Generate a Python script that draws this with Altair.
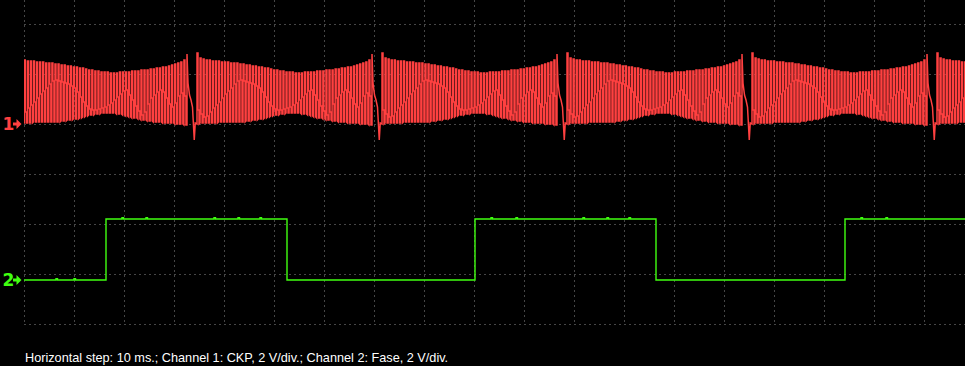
import altair as alt
import pandas as pd

# ---------------- Channel 1: CKP (volts per tooth, one crank revolution, 60-2 wheel) ----------------
tooth_top = [5.68,
             5.28, 5.20, 5.12, 5.12,
             5.04, 5.04, 5.04, 4.96, 4.96,
             4.96, 4.88, 4.88, 4.88, 4.80,
             4.80, 4.72, 4.72, 4.64, 4.64,
             4.56, 4.56, 4.48, 4.48, 4.40,
             4.32, 4.32, 4.24, 4.24, 4.16,
             4.16, 4.16, 4.08, 4.08, 4.08,
             4.16, 4.16, 4.16, 4.16, 4.24,
             4.24, 4.24, 4.32, 4.32, 4.32,
             4.40, 4.40, 4.48, 4.48, 4.56,
             4.56, 4.64, 4.72, 4.80, 4.88,
             4.96, 5.12, 5.60]
tooth_mid = [1.12, 0.80, 0.56, 0.64, 0.96,
             1.28, 1.52, 1.76, 2.08, 2.40,
             2.64, 2.88, 3.20, 3.44, 3.52,
             3.44, 3.36, 3.28, 3.20, 3.04,
             2.88, 2.56, 2.16, 1.76, 1.44,
             1.20, 1.12, 1.12, 1.20, 1.28,
             1.36, 1.52, 1.68, 1.92, 2.16,
             2.40, 2.64, 2.72, 2.32, 1.92,
             1.44, 1.04, 0.72, 0.96, 1.60,
             2.08, 2.32, 2.56, 2.72, 2.56,
             2.08, 1.60, 1.36, 1.68, 2.24,
             2.48, 2.24, 1.92]
tooth_bottom = [0.00, 0.08, 0.08, 0.08, 0.08, 0.08, 0.08, 0.16, 0.16, 0.16,
                0.16, 0.16, 0.16, 0.16, 0.16, 0.16, 0.24, 0.24, 0.32, 0.32,
                0.40, 0.40, 0.48, 0.56, 0.64, 0.72, 0.72, 0.80, 0.80, 0.88,
                0.88, 0.88, 0.88, 0.88, 0.80, 0.80, 0.72, 0.64, 0.56, 0.48,
                0.48, 0.40, 0.32, 0.32, 0.24, 0.24, 0.16, 0.16, 0.16, 0.08,
                0.08, 0.08, 0.08, 0.00, 0.00, 0.00, -0.08, -0.08]
gap_times = [65.2, 139.2, 213.2, 287.2, 361.2]      # ms: last tooth before the missing-tooth gap
teeth_span = 70.0                                    # ms from first to last tooth
gap_dt = [0.4, 1.0, 1.6, 2.2, 2.9, 3.3]              # ms after last tooth
gap_v = [3.28, 2.32, 1.92, 1.36, -1.28, 0.08]        # volts
ch1_offset = 16.0                                    # display volts of channel 1 zero

# ---------------- Channel 2: Fase ----------------
fase_edges = [32.8, 105.2, 180.4, 252.8, 328.4]      # ms, alternating rise / fall
fase_high = 4.88
fase_glitch_t = [12.8, 20.0, 39.2, 48.8, 76.0, 85.6, 94.4, 186.8, 196.8, 223.6, 233.2, 242.0, 334.8, 344.8]
fase_glitch_dv = 0.10
fase_glitch_w = 0.6
ch2_offset = 3.52

t_end = 376.4
caption = "Horizontal step: 10 ms.; Channel 1: CKP, 2 V/div.; Channel 2: Fase, 2 V/div."
channel_names = ["1", "2"]
channel_levels = [ch1_offset, ch2_offset]

# ---- build channel 1 trace ----
pts = []
starts = [g - teeth_span for g in gap_times] + [gap_times[-1] + 4.0]
n = len(tooth_top)
step = teeth_span / (n - 1)
for k, s in enumerate(starts):
    for i in range(n):
        t = s + i * step
        if t > t_end + 2:
            break
        B, T, M = tooth_bottom[i], tooth_top[i], tooth_mid[i]
        pts.append((t, B))
        pts.append((t, T))
        if i == n - 1 and k < len(starts) - 1:
            for dt, v in zip(gap_dt, gap_v):
                pts.append((t + dt, v))
        else:
            pts += [(t + 0.4, T), (t + 0.4, M), (t + 0.8, M), (t + 0.8, B)]
ch1 = pd.DataFrame({"t": [p[0] for p in pts],
                    "v": [p[1] + ch1_offset for p in pts],
                    "idx": list(range(len(pts)))})

# ---- build channel 2 trace ----
def base_level(t):
    lvl = 0.0
    for j, e in enumerate(fase_edges):
        if t >= e:
            lvl = fase_high if j % 2 == 0 else 0.0
    return lvl

g_pts = [(0.0, 0.0)]
for j, e in enumerate(fase_edges):
    g_pts.append((e, fase_high if j % 2 == 0 else 0.0))
for tg in fase_glitch_t:
    b = base_level(tg)
    g_pts.append((tg, b + fase_glitch_dv))
    g_pts.append((tg + fase_glitch_w, b))
g_pts.append((t_end, base_level(t_end)))
g_pts.sort(key=lambda p: p[0])
ch2 = pd.DataFrame({"t": [p[0] for p in g_pts],
                    "v": [p[1] + ch2_offset for p in g_pts],
                    "idx": list(range(len(g_pts)))})

RED = "#ff4040"
GREEN = "#40ff10"
GRID = "#8c8c8c"

xs = alt.Scale(domain=[0, t_end], nice=False, zero=False)
ys = alt.Scale(domain=[0, 25.92], nice=False, zero=False)
x_axis = alt.Axis(values=list(range(0, 380, 10)), labels=False, ticks=False, domain=False,
                  grid=True, gridColor=GRID, gridDash=[1, 4], gridWidth=1, title="")
y_axis = alt.Axis(values=list(range(0, 26, 2)), labels=False, ticks=False, domain=False,
                  grid=True, gridColor=GRID, gridDash=[1, 4], gridWidth=1, title="")

red = alt.Chart(ch1).mark_line(color=RED, strokeWidth=1.5, clip=True).encode(
    x=alt.X("t:Q", scale=xs, axis=x_axis),
    y=alt.Y("v:Q", scale=ys, axis=y_axis),
    order="idx:Q",
)
green = alt.Chart(ch2).mark_line(color=GREEN, strokeWidth=1.4, interpolate="step-after", clip=True).encode(
    x=alt.X("t:Q", scale=xs),
    y=alt.Y("v:Q", scale=ys),
    order="idx:Q",
)

lab_df = pd.DataFrame({"name": channel_names, "level": channel_levels})
color_scale = alt.Scale(domain=channel_names, range=[RED, GREEN])
labels = alt.Chart(lab_df).mark_text(fontSize=17, fontWeight="bold", font="DejaVu Sans",
                                     align="center", baseline="middle", dy=1).encode(
    x=alt.value(-15.5),
    y=alt.Y("level:Q", scale=ys),
    text="name:N",
    color=alt.Color("name:N", scale=color_scale, legend=None),
)
arrows = alt.Chart(lab_df).mark_point(
    shape="M-0.9,-0.3L-0.2,-0.3L-0.2,-1L0.8,0L-0.2,1L-0.2,0.3L-0.9,0.3Z",
    filled=True, size=100, opacity=1, strokeWidth=0).encode(
    x=alt.value(-6.5),
    y=alt.Y("level:Q", scale=ys),
    color=alt.Color("name:N", scale=color_scale, legend=None),
)
cap = alt.Chart(pd.DataFrame({"c": [caption]})).mark_text(
    color="white", font="Liberation Sans", fontSize=12.7, align="left", baseline="alphabetic").encode(
    x=alt.value(1), y=alt.value(362), text="c:N")

chart = alt.layer(red, green, labels, arrows, cap).properties(
    width=941, height=324,
    padding={"left": 24, "top": 0, "right": 0, "bottom": 42},
    autosize=alt.AutoSizeParams(type="none"),
    background="black",
).configure_view(strokeWidth=0)

chart.save("out.html", embed_options={"renderer": "svg", "actions": False})
